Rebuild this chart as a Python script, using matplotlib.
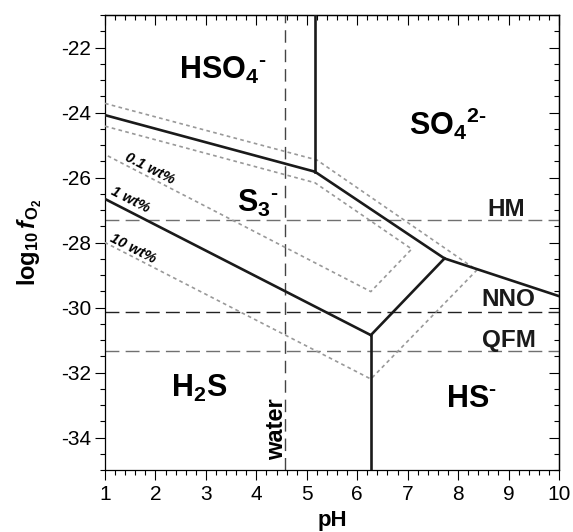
import matplotlib
matplotlib.use("Agg")
import matplotlib.pyplot as plt
from matplotlib.ticker import MultipleLocator

plt.rcParams["font.family"] = ["Liberation Sans", "DejaVu Sans"]
plt.rcParams["mathtext.fontset"] = "custom"
plt.rcParams["mathtext.rm"] = "Liberation Sans"
plt.rcParams["mathtext.bf"] = "Liberation Sans:bold"
plt.rcParams["mathtext.it"] = "Liberation Sans:italic"
plt.rcParams["mathtext.bfit"] = "Liberation Sans:bold:italic"
plt.rcParams["axes.unicode_minus"] = False

# Field boundaries (pH, log10 fO2), 1 wt% case
hso4_s3_ph = [1.0, 5.16]
hso4_s3_fo2 = [-24.08, -25.82]
hso4_so4_ph = [5.16, 5.16]
hso4_so4_fo2 = [-25.82, -21.0]
so4_s3_ph = [5.16, 7.73]
so4_s3_fo2 = [-25.82, -28.49]
so4_hs_ph = [7.73, 10.0]
so4_hs_fo2 = [-28.49, -29.65]
s3_hs_ph = [7.73, 6.27]
s3_hs_fo2 = [-28.49, -30.85]
h2s_hs_ph = [6.27, 6.27]
h2s_hs_fo2 = [-30.85, -35.0]
h2s_s3_ph = [1.0, 6.27]
h2s_s3_fo2 = [-26.66, -30.85]

# S3- field outlines for 0.1 wt% and 10 wt%
s3_01_ph = [1.0, 5.16, 7.08, 6.27, 1.0]
s3_01_fo2 = [-24.42, -26.16, -28.2, -29.51, -25.29]
s3_10_ph = [1.0, 5.2, 8.37, 6.27, 1.0]
s3_10_fo2 = [-23.72, -25.46, -28.85, -32.2, -28.0]

# Buffers and water neutrality
buffer_names = ["HM", "NNO", "QFM"]
buffer_fo2 = [-27.31, -30.15, -31.33]
buffer_label_ph = [8.96, 9.0, 9.0]
buffer_label_fo2 = [-26.97, -29.75, -31.0]
buffer_colors = ["#707070", "#222222", "#707070"]
water_ph = 4.57

HY = "\u2010"
species_labels = [r"$\mathbf{HSO}_\mathbf{4}{}^\mathbf{" + HY + "}$",
                  r"$\mathbf{SO}_\mathbf{4}{}^\mathbf{2" + HY + "}$",
                  r"$\mathbf{S}_\mathbf{3}{}^\mathbf{" + HY + "}$",
                  r"$\mathbf{H}_\mathbf{2}\mathbf{S}$",
                  r"$\mathbf{HS}{}^\mathbf{" + HY + "}$"]
species_ph = [3.33, 7.8, 4.03, 2.87, 8.26]
species_fo2 = [-22.7, -24.35, -26.8, -32.5, -32.8]

fig = plt.figure(figsize=(5.73, 5.32), dpi=100)
ax = fig.add_axes([0.1832, 0.1165, 0.7924, 0.8553])

solid = dict(color="#1a1a1a", lw=1.9, solid_joinstyle="miter", zorder=4)
for xs, ys in [(hso4_s3_ph, hso4_s3_fo2), (hso4_so4_ph, hso4_so4_fo2),
               (so4_s3_ph, so4_s3_fo2), (so4_hs_ph, so4_hs_fo2),
               (s3_hs_ph, s3_hs_fo2), (h2s_hs_ph, h2s_hs_fo2),
               (h2s_s3_ph, h2s_s3_fo2)]:
    ax.plot(xs, ys, **solid)

dotted = dict(color="#999999", lw=1.2, linestyle=(0, (2.2, 2.0)), zorder=3)
ax.plot(s3_01_ph, s3_01_fo2, **dotted)
ax.plot(s3_10_ph, s3_10_fo2, **dotted)

for name, y, lx, ly, c in zip(buffer_names, buffer_fo2, buffer_label_ph,
                              buffer_label_fo2, buffer_colors):
    ax.axhline(y, color=c, lw=1.0, linestyle=(0, (10, 4.5)), zorder=2)
    ax.text(lx, ly, name, fontsize=17.5, fontweight="bold",
            ha="center", va="center", color="#1a1a1a")

ax.axvline(water_ph, color="#444444", lw=1.0, linestyle=(0, (9, 5)), zorder=2)
ax.text(water_ph - 0.17, -33.75, "water", rotation=90, fontsize=17,
        fontweight="bold", ha="center", va="center")

for lab, x, y in zip(species_labels, species_ph, species_fo2):
    ax.text(x, y, lab, fontsize=22, ha="center", va="center")

wt_style = dict(fontsize=10.5, fontweight="bold", fontstyle="italic",
                rotation=-27, ha="center", va="center", rotation_mode="anchor")
ax.text(1.89, -25.72, "0.1 wt%", **wt_style)
ax.text(1.5, -26.68, "1 wt%", **wt_style)
ax.text(1.55, -28.2, "10 wt%", **wt_style)

ax.set_xlim(1, 10)
ax.set_ylim(-35, -21)
ax.xaxis.set_major_locator(MultipleLocator(1))
ax.xaxis.set_minor_locator(MultipleLocator(0.2))
ax.yaxis.set_major_locator(MultipleLocator(2))
ax.yaxis.set_minor_locator(MultipleLocator(0.5))
ax.tick_params(which="both", direction="out", width=0.8, labelsize=15)
ax.tick_params(which="major", length=7)
ax.tick_params(which="minor", length=3.6)
ax.tick_params(axis="x", pad=4)
ax.tick_params(axis="y", pad=3)
for s in ax.spines.values():
    s.set_linewidth(0.9)

# inward ticks on top and right
top = ax.secondary_xaxis("top")
right = ax.secondary_yaxis("right")
top.xaxis.set_major_locator(MultipleLocator(1))
top.xaxis.set_minor_locator(MultipleLocator(0.2))
right.yaxis.set_major_locator(MultipleLocator(2))
right.yaxis.set_minor_locator(MultipleLocator(0.5))
for sec in (top, right):
    sec.tick_params(which="both", direction="in", width=0.8,
                    labeltop=False, labelright=False)
    sec.tick_params(which="major", length=7)
    sec.tick_params(which="minor", length=3.6)
    for s in sec.spines.values():
        s.set_linewidth(0.9)

ax.set_xlabel("pH", fontsize=16, fontweight="bold", labelpad=4)
ax.set_ylabel(r"$\mathbf{log}_\mathbf{10}\,\mathbfit{f}_{\mathbf{O_2}}$",
              fontsize=17, labelpad=12)

fig.savefig("out.png", dpi=100)
